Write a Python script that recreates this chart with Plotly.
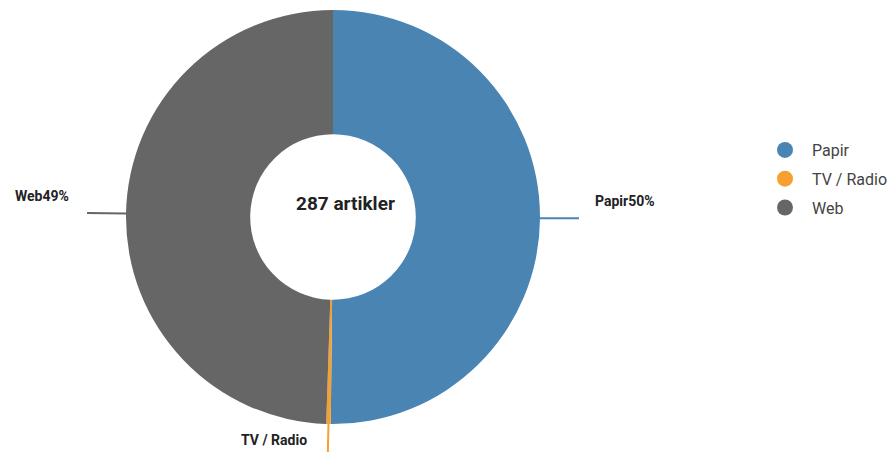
import math
import plotly.graph_objects as go

categories = ["Papir", "TV / Radio", "Web"]
values = [144, 1, 142]
colors = ["#4a84b3", "#f5a030", "#666666"]
total_label = "287 artikler"

W, H = 895, 456
CX, CY, R = 333, 217, 207
HOLE = 0.40

def P(x, y):
    return x / W, 1 - y / H

fig = go.Figure()
x0, y0 = P(CX - R, CY + R)
x1, y1 = P(CX + R, CY - R)
fig.add_trace(go.Pie(
    labels=categories, values=values, hole=HOLE, sort=False,
    direction="clockwise", rotation=0, textinfo="none", hoverinfo="label+percent",
    marker=dict(colors=colors, line=dict(width=0)),
    domain=dict(x=[x0, x1], y=[y0, y1]), showlegend=False,
))

for c, col in zip(categories, colors):
    fig.add_trace(go.Scatter(
        x=[None], y=[None], mode="markers", name=c, legendgroup=c,
        marker=dict(symbol="circle", size=16, color=col),
    ))

total = sum(values)
cum = 0
shapes, annos = [], []
for c, v, col in zip(categories, values, colors):
    mid = (cum + v / 2) / total * 2 * math.pi
    cum += v
    dx, dy = math.sin(mid), -math.cos(mid)
    L = 28 if abs(dx) < 0.5 else 39
    sx, sy = CX + R * dx, CY + R * dy
    ex, ey = CX + (R + L) * dx, CY + (R + L) * dy
    a0 = P(sx, sy); a1 = P(ex, ey)
    shapes.append(dict(type="line", xref="paper", yref="paper",
                       x0=a0[0], y0=a0[1], x1=a1[0], y1=a1[1],
                       line=dict(color=col, width=2)))
    pct = round(v / total * 100)
    if dx > 0.5:
        txt, ax, ay, xa = f"{c}{pct}%", ex + 14, ey - 17, "left"
    elif dx < -0.5:
        txt, ax, ay, xa = f"{c}{pct}%", ex - 16, ey - 17, "right"
    else:
        txt, ax, ay, xa = c, ex - 19, ey - 12, "right"
    ap = P(ax, ay)
    annos.append(dict(x=ap[0], y=ap[1], xref="paper", yref="paper", text=f"<b>{txt}</b>",
                      showarrow=False, xanchor=xa, yanchor="middle",
                      font=dict(family="Roboto", size=14, color="#222222")))

cp = P(345, 203)
annos.append(dict(x=cp[0], y=cp[1], xref="paper", yref="paper", text=f"<b>{total_label}</b>",
                  showarrow=False, xanchor="center", yanchor="middle",
                  font=dict(family="Roboto", size=19, color="#222222")))

lp = P(758, 133)
fig.update_layout(
    width=W, height=H, margin=dict(l=0, r=0, t=0, b=0, autoexpand=False),
    paper_bgcolor="white", plot_bgcolor="white",
    xaxis=dict(visible=False), yaxis=dict(visible=False),
    shapes=shapes, annotations=annos,
    legend=dict(x=lp[0], y=lp[1], xanchor="left", yanchor="top",
                font=dict(family="Roboto", size=16, color="#444444"),
                tracegroupgap=5, itemwidth=44),
    font=dict(family="Roboto"),
)
fig.write_html("out.html")
